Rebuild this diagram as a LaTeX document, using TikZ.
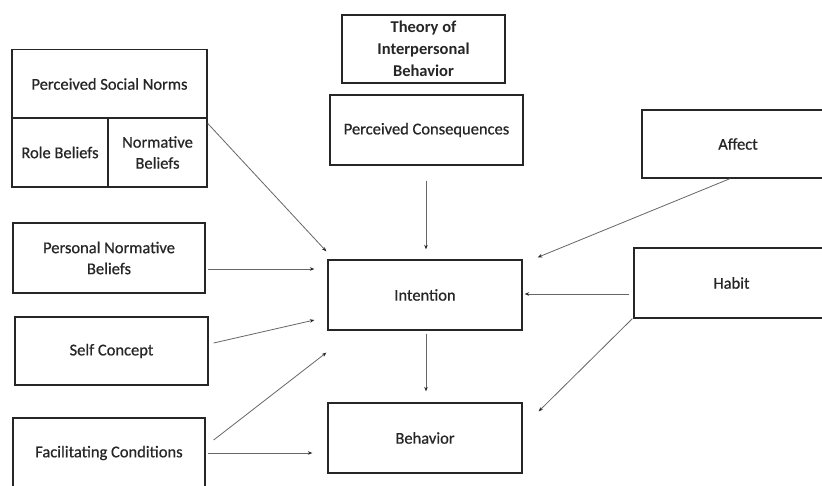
\documentclass[tikz,border=0pt]{standalone}
\usepackage{fontspec}
\setmainfont{Carlito}
\newfontfamily\boxfont[FakeBold=0.6]{Carlito}
\usetikzlibrary{calc,arrows.meta}
\tikzset{
  box/.style={draw=black!85, line width=1.3pt, fill=white, inner sep=0pt,
    align=center, font=\boxfont\fontsize{16.5}{21}\selectfont, text=black!85},
  conn/.style={draw=black!60, line width=0.8pt,
    -{Stealth[length=4.5pt,width=3.5pt,black!85]}},
}
\begin{document}
\begin{tikzpicture}[x=1pt,y=-1pt]
\useasboundingbox (0,0) rectangle (822,485);
\clip (0,0) rectangle (822,485);
\fill[white] (0,0) rectangle (822,485);
% boxes
\node[box, minimum width=195pt, minimum height=69pt] (psn) at (109.5,84) {Perceived Social Norms};
\node[box, minimum width=96pt, minimum height=69pt] (rb) at (60,152.5) {Role Beliefs};
\node[box, minimum width=99pt, minimum height=69pt] (nb) at (157.5,152.5) {Normative\\Beliefs};
\node[box, minimum width=163pt, minimum height=68pt, font=\rmfamily\fontsize{16.5}{22}\selectfont\bfseries] (tib) at (423.5,49) {Theory of\\Interpersonal\\Behavior};
\node[box, minimum width=193pt, minimum height=70pt] (pc) at (426.5,130) {Perceived Consequences};
\node[box, minimum width=192pt, minimum height=68pt] (aff) at (738,144) {Affect};
\node[box, minimum width=195pt, minimum height=70pt] (hab) at (731.5,283) {Habit};
\node[box, minimum width=192pt, minimum height=70pt] (pnb) at (109,258) {Personal Normative\\Beliefs};
\node[box, minimum width=193pt, minimum height=68pt] (sc) at (111.5,351) {Self Concept};
\node[box, minimum width=192pt, minimum height=70pt] (fc) at (109,453) {Facilitating Conditions};
\node[box, minimum width=194pt, minimum height=70pt] (int) at (425,295) {Intention};
\node[box, minimum width=194pt, minimum height=70pt] (beh) at (425,438) {Behavior};
% connectors
\draw[conn] ($(nb.north east)+(0,6)$) -- ($(int.north west)+(-1,-8)$);
\draw[conn] ($(pnb.east)+(2,11)$) -- ($(int.west)+(-13,-26)$);
\draw[conn] ($(sc.east)+(5,-8)$) -- ($(int.west)+(-13,25)$);
\draw[conn] ($(fc.east)+(8,-13)$) -- ($(int.south west)+(-1,22)$);
\draw[conn] ($(fc.east)+(2,0)$) -- ($(beh.west)+(-15,15)$);
\draw[conn] ($(pc.south)+(-0.5,15)$) -- ($(int.north)+(1,-10)$);
\draw[conn] ($(int.south)+(1,3)$) -- ($(beh.north)+(1,-11)$);
\draw[conn] ($(aff.south)+(-8,0)$) -- ($(int.north east)+(15,-2)$);
\draw[conn] ($(hab.west)+(-4,11)$) -- ($(int.east)+(2,-1)$);
\draw[conn] ($(hab.south west)+(-1,0)$) -- ($(beh.north east)+(16,9)$);
\end{tikzpicture}
\end{document}
